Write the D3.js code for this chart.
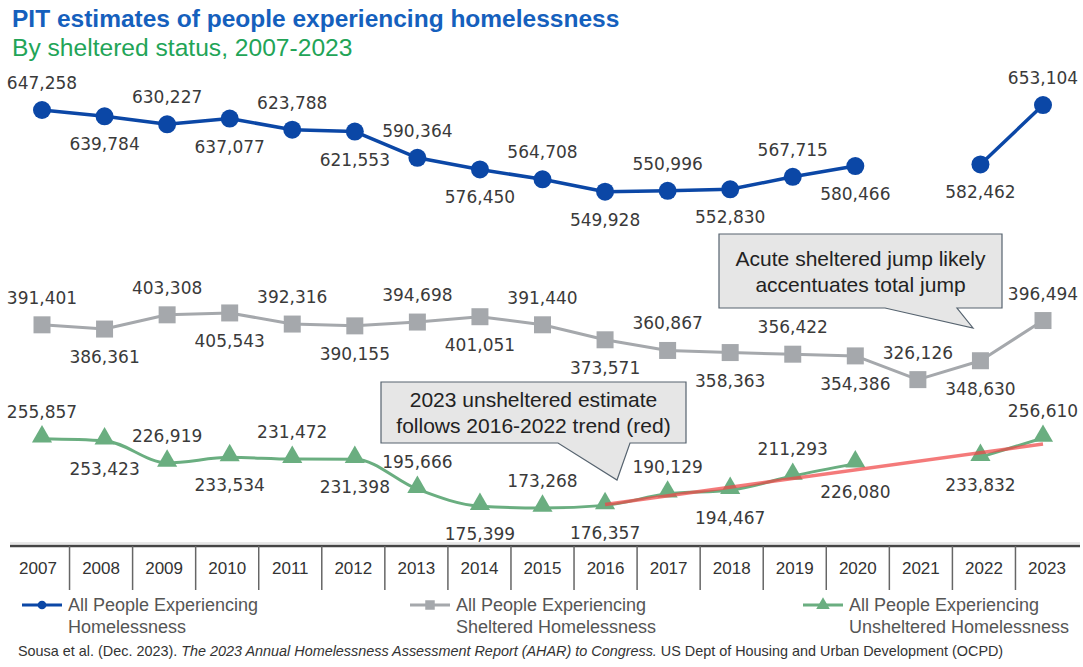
<!DOCTYPE html>
<html>
<head>
<meta charset="utf-8">
<script src="https://cdn.jsdelivr.net/npm/d3@7"></script>
<style>
  html, body { margin: 0; padding: 0; background: #fff; }
  svg { display: block; }
</style>
</head>
<body>
<svg id="chart" width="1083" height="667"></svg>
<script>
// PIT counts, 2007-2023 (no full count in 2021 for total / unsheltered)
const years = [2007, 2008, 2009, 2010, 2011, 2012, 2013, 2014, 2015, 2016, 2017, 2018, 2019, 2020, 2021, 2022, 2023];
const totalValues = [647258, 639784, 630227, 637077, 623788, 621553, 590364, 576450, 564708, 549928, 550996, 552830, 567715, 580466, null, 582462, 653104];
const shelteredValues = [391401, 386361, 403308, 405543, 392316, 390155, 394698, 401051, 391440, 373571, 360867, 358363, 356422, 354386, 326126, 348630, 396494];
const unshelteredValues = [255857, 253423, 226919, 233534, 231472, 231398, 195666, 175399, 173268, 176357, 190129, 194467, 211293, 226080, null, 233832, 256610];
// 2016-2022 unsheltered trend, carried to 2023
const trendYears = [2016, 2023];
const trendValues = [177500, 249500];
const legendLabels = [
  ["All People Experiencing", "Homelessness"],
  ["All People Experiencing", "Sheltered Homelessness"],
  ["All People Experiencing", "Unsheltered Homelessness"]
];
const notes = [
  ["Acute sheltered jump likely", "accentuates total jump"],
  ["2023 unsheltered estimate", "follows 2016-2022 trend (red)"]
];

const svg = d3.select("#chart");
const fmt = d3.format(",");
const labelFont = "'DejaVu Sans', Verdana, sans-serif";
const textFont = "'Liberation Sans', Arial, sans-serif";

const x = d3.scalePoint().domain(years).range([42, 1043]);
const xAxis = d3.scalePoint().domain(years).range([38, 1047]);
const y = d3.scaleLinear().domain([125000, 675000]).range([548.5, 86.7]);

// Title block
svg.append("text").attr("x", 12).attr("y", 27)
  .attr("font-family", textFont).attr("font-size", 24.5).attr("font-weight", "bold")
  .attr("fill", "#1560bd").text("PIT estimates of people experiencing homelessness");
svg.append("text").attr("x", 12).attr("y", 56)
  .attr("font-family", textFont).attr("font-size", 24.6)
  .attr("fill", "#22a457").text("By sheltered status, 2007-2023");

// Category axis: a baseline with dividers between the year labels
const axisY = 546;
const step = xAxis.step();
const axisG = svg.append("g");
axisG.append("line").attr("x1", 10).attr("x2", 1080).attr("y1", axisY - 3).attr("y2", axisY - 3)
  .attr("stroke", "#d0d0d0").attr("stroke-width", 1);
axisG.append("line").attr("x1", 10).attr("x2", 1080).attr("y1", axisY).attr("y2", axisY)
  .attr("stroke", "#454545").attr("stroke-width", 2.5);
axisG.selectAll(".div").data(years.slice(1)).join("line")
  .attr("x1", d => xAxis(d) - step / 2).attr("x2", d => xAxis(d) - step / 2)
  .attr("y1", axisY).attr("y2", 590)
  .attr("stroke", "#666").attr("stroke-width", 1.5);
axisG.selectAll(".yr").data(years).join("text")
  .attr("x", d => xAxis(d)).attr("y", 574)
  .attr("text-anchor", "middle")
  .attr("font-family", textFont).attr("font-size", 17).attr("fill", "#333")
  .text(d => d);

function series(values, cfg) {
  const pts = years.map((yr, i) => ({ yr, v: values[i], i })).filter(d => d.v != null);
  const line = d3.line()
    .defined((d, i) => values[i] != null)
    .x((d, i) => x(years[i])).y((d) => y(d))
    .curve(cfg.curve || d3.curveLinear);
  const g = svg.append("g");
  g.append("path").datum(values)
    .attr("d", line)
    .attr("fill", "none").attr("stroke", cfg.color).attr("stroke-width", cfg.width)
    .attr("stroke-linejoin", "round");
  return { g, pts };
}

function markers(s, cfg) {
  const sym = d3.symbol().type(cfg.symbol).size(cfg.size);
  s.g.selectAll(".m").data(s.pts).join("path")
    .attr("transform", d => `translate(${x(d.yr)},${y(d.v) + (cfg.dy || 0)})`)
    .attr("d", sym).attr("fill", cfg.color);
}

function labels(s) {
  s.g.selectAll(".lbl").data(s.pts).join("text")
    .attr("x", d => x(d.yr))
    .attr("y", d => y(d.v) + (d.i % 2 === 0 ? -21 : 34))
    .attr("text-anchor", "middle")
    .attr("font-family", labelFont).attr("font-size", 17).attr("fill", "#3a3a3a")
    .text(d => fmt(d.v));
}

const blue = "#0b47a6", gray = "#a5a8ac", green = "#6aae80";

const total = series(totalValues, { color: blue, width: 3.5 });
markers(total, { symbol: d3.symbolCircle, size: Math.PI * 81, color: blue });

const sheltered = series(shelteredValues, { color: gray, width: 3 });
markers(sheltered, { symbol: d3.symbolSquare, size: 289, color: gray });

const unsheltered = series(unshelteredValues, { color: green, width: 3, curve: d3.curveMonotoneX });
markers(unsheltered, { symbol: d3.symbolTriangle, size: 175, color: green, dy: -2 });

// Trend line drawn over the unsheltered series
svg.append("path")
  .datum(trendYears.map((yr, i) => [yr, trendValues[i]]))
  .attr("d", d3.line().x(d => x(d[0])).y(d => y(d[1])))
  .attr("fill", "none").attr("stroke", "rgba(240,70,70,0.72)").attr("stroke-width", 3.5);

labels(total);
labels(sheltered);
labels(unsheltered);

// Callout boxes with pointer tails
function callout(box, tail, lines) {
  const [x0, y0, x1, y1] = box;
  const [b0, b1, tx, ty] = tail;
  const p = d3.path();
  p.moveTo(x0, y0); p.lineTo(x1, y0); p.lineTo(x1, y1);
  p.lineTo(b1, y1); p.lineTo(tx, ty); p.lineTo(b0, y1);
  p.lineTo(x0, y1); p.closePath();
  const g = svg.append("g");
  g.append("path").attr("d", p.toString())
    .attr("fill", "#e6e6e6").attr("stroke", "#56636f").attr("stroke-width", 1.2);
  const mid = (y0 + y1) / 2;
  g.selectAll("text").data(lines).join("text")
    .attr("x", (x0 + x1) / 2).attr("y", (d, i) => mid - 13 + i * 26 + 7.5)
    .attr("text-anchor", "middle")
    .attr("font-family", textFont).attr("font-size", 21).attr("fill", "#222")
    .text(d => d);
}
callout([719, 234, 1002, 308], [885, 957, 973, 328], notes[0]);
callout([381, 382, 686, 443], [558, 630, 617, 480], notes[1]);

// Legend
const legendCfg = [
  { x: 22, color: blue, symbol: d3.symbolCircle, size: 60 },
  { x: 410, color: gray, symbol: d3.symbolSquare, size: 90 },
  { x: 803, color: green, symbol: d3.symbolTriangle, size: 80 }
];
legendCfg.forEach((c, i) => {
  const g = svg.append("g").attr("transform", `translate(${c.x},605)`);
  g.append("line").attr("x1", 0).attr("x2", 40).attr("stroke", c.color).attr("stroke-width", 3);
  g.append("path").attr("transform", "translate(20,0)")
    .attr("d", d3.symbol().type(c.symbol).size(c.size)).attr("fill", c.color);
  g.selectAll("text").data(legendLabels[i]).join("text")
    .attr("x", 46).attr("y", (d, j) => 6 + j * 22)
    .attr("font-family", textFont).attr("font-size", 18).attr("fill", "#555")
    .text(d => d);
});

// Source line
const src = svg.append("text").attr("x", 18).attr("y", 656)
  .attr("font-family", textFont).attr("font-size", 14.4).attr("fill", "#333");
src.append("tspan").text("Sousa et al. (Dec. 2023). ");
src.append("tspan").attr("font-style", "italic")
  .text("The 2023 Annual Homelessness Assessment Report (AHAR) to Congress.");
src.append("tspan").text(" US Dept of Housing and Urban Development (OCPD)");
</script>
</body>
</html>
